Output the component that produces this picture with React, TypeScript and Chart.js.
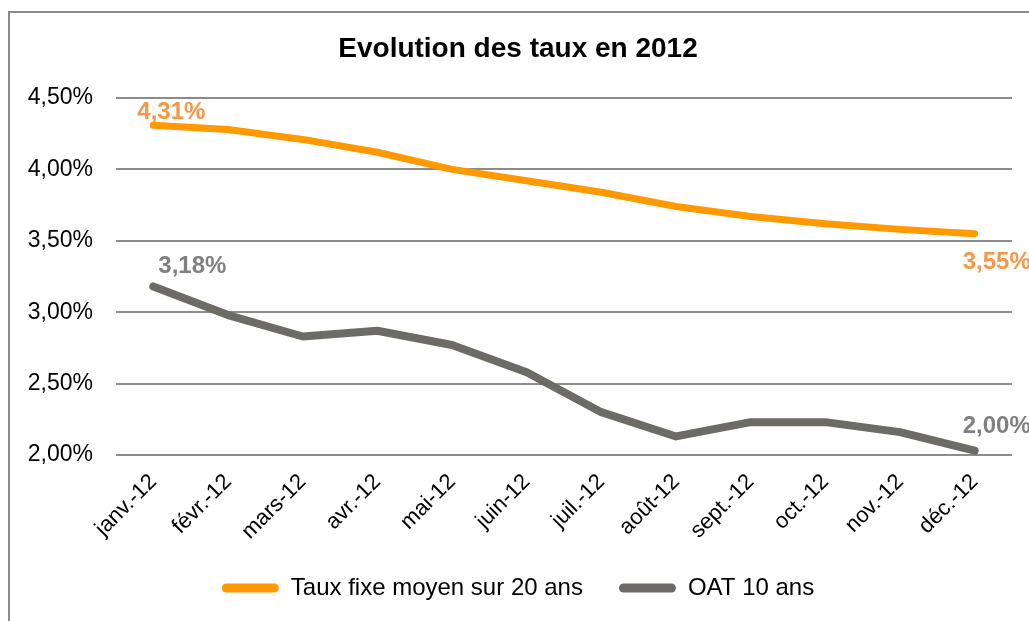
import React, { useEffect, useRef } from "react";
import { Chart, registerables } from "chart.js";

Chart.register(...registerables);

const months = ["janv.-12", "févr.-12", "mars-12", "avr.-12", "mai-12", "juin-12", "juil.-12", "août-12", "sept.-12", "oct.-12", "nov.-12", "déc.-12"];
const tauxFixe = [4.31, 4.28, 4.21, 4.12, 4.0, 3.92, 3.84, 3.74, 3.67, 3.62, 3.58, 3.55];
const oat10 = [3.18, 2.98, 2.83, 2.87, 2.77, 2.58, 2.3, 2.13, 2.23, 2.23, 2.16, 2.03];
const tauxFixeEndLabels = ["4,31%", "3,55%"];
const oatEndLabels = ["3,18%", "2,00%"];
const seriesNames = ["Taux fixe moyen sur 20 ans", "OAT 10 ans"];
const yTicks = { min: 2, max: 4.5, step: 0.5 };

const FONT = "'Liberation Sans', Arial, sans-serif";
const ORANGE = "#FF9900";
const GRAY = "#6C6B65";
const ORANGE_LABEL = "#F79646";
const GRAY_LABEL = "#808080";

const endLabelsPlugin = {
  id: "endLabels",
  afterDatasetsDraw(chart: any) {
    const ctx = chart.ctx;
    const specs = [
      { ds: 0, idx: 0, text: tauxFixeEndLabels[0], color: ORANGE_LABEL, dx: -16, dy: -13 },
      { ds: 0, idx: tauxFixe.length - 1, text: tauxFixeEndLabels[1], color: ORANGE_LABEL, dx: -12, dy: 29 },
      { ds: 1, idx: 0, text: oatEndLabels[0], color: GRAY_LABEL, dx: 5, dy: -20 },
      { ds: 1, idx: oat10.length - 1, text: oatEndLabels[1], color: GRAY_LABEL, dx: -12, dy: -24 },
    ];
    ctx.save();
    ctx.font = `bold 24px ${FONT}`;
    ctx.textAlign = "left";
    ctx.textBaseline = "middle";
    for (const s of specs) {
      const pt = chart.getDatasetMeta(s.ds).data[s.idx];
      if (!pt) continue;
      ctx.fillStyle = s.color;
      ctx.fillText(s.text, pt.x + s.dx, pt.y + s.dy);
    }
    ctx.restore();
  },
};

export default function App() {
  const ref = useRef<HTMLCanvasElement>(null);

  useEffect(() => {
    if (!ref.current) return;
    const chart = new Chart(ref.current, {
      type: "line",
      data: {
        labels: months,
        datasets: [
          {
            label: seriesNames[0],
            data: tauxFixe,
            borderColor: ORANGE,
            backgroundColor: ORANGE,
            borderWidth: 7,
            pointRadius: 0,
            borderCapStyle: "round",
            borderJoinStyle: "round",
            tension: 0,
          },
          {
            label: seriesNames[1],
            data: oat10,
            borderColor: GRAY,
            backgroundColor: GRAY,
            borderWidth: 8,
            pointRadius: 0,
            borderCapStyle: "round",
            borderJoinStyle: "round",
            tension: 0,
          },
        ],
      },
      options: {
        responsive: false,
        animation: false,
        devicePixelRatio: 1,
        layout: { padding: { left: 24, right: 17, top: 0, bottom: 11 } },
        plugins: {
          title: {
            display: true,
            text: "Evolution des taux en 2012",
            color: "#000",
            font: { family: FONT, size: 28, weight: "bold" },
            padding: { top: 32, bottom: 32.4 },
          },
          legend: {
            position: "bottom",
            labels: {
              color: "#000",
              font: { family: FONT, size: 24 },
              boxWidth: 57,
              boxHeight: 9,
              padding: 36,
              generateLabels: (c: any) =>
                Chart.defaults.plugins.legend.labels
                  .generateLabels(c)
                  .map((it: any) => ({ ...it, lineWidth: 0, fillStyle: it.strokeStyle, borderRadius: 4.5 })),
            },
          },
          tooltip: { enabled: false },
        },
        scales: {
          x: {
            offset: true,
            grid: { display: false, drawTicks: false },
            border: { display: false },
            ticks: {
              color: "#000",
              font: { family: FONT, size: 22 },
              minRotation: 45,
              maxRotation: 45,
              padding: 14,
              autoSkip: false,
            },
            afterFit: (s: any) => {
              s.height = 85;
            },
          },
          y: {
            min: yTicks.min,
            max: yTicks.max,
            grid: { color: "#8C8C8C", lineWidth: 2, drawTicks: false },
            border: { display: false },
            ticks: {
              stepSize: yTicks.step,
              color: "#000",
              font: { family: FONT, size: 23 },
              padding: 23,
              callback: (v: any) => Number(v).toFixed(2).replace(".", ",") + "%",
            },
            afterFit: (s: any) => {
              s.width = 92;
            },
          },
        },
      },
      plugins: [endLabelsPlugin],
    });
    return () => chart.destroy();
  }, []);

  return (
    <div style={{ position: "fixed", left: 0, top: 0, width: 1029, height: 621, overflow: "hidden", background: "#fff" }}>
      <div
        style={{
          position: "absolute",
          left: 8,
          top: 11,
          width: 1100,
          height: 700,
          border: "2px solid #8C8C8C",
          boxSizing: "border-box",
        }}
      />
      <canvas ref={ref} width={1029} height={621} style={{ position: "absolute", left: 0, top: 0, width: 1029, height: 621 }} />
    </div>
  );
}
